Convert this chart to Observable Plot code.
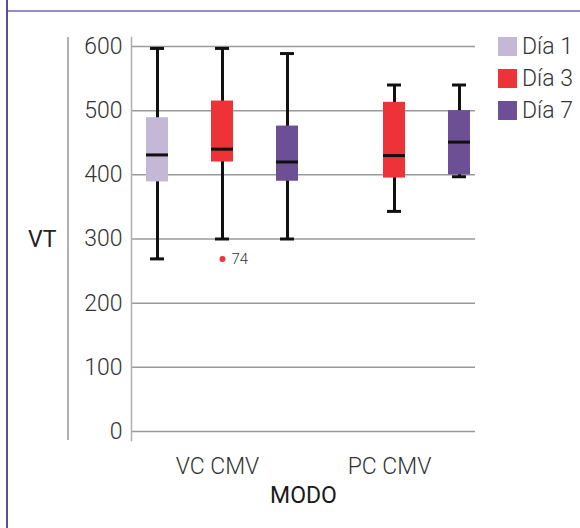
<!DOCTYPE html>
<html>
<head>
<meta charset="utf-8">
<script src="https://cdn.jsdelivr.net/npm/d3@7"></script>
<script src="https://cdn.jsdelivr.net/npm/@observablehq/plot@0.6"></script>
<style>
  body { margin: 0; background: #fff; font-family: Roboto, "DejaVu Sans", sans-serif; }
  #wrap { position: relative; width: 580px; height: 528px; overflow: hidden; background: #fff; }
  #wrap svg { position: absolute; left: 0; top: 0; }
  .deco { position: absolute; }
  #legend { position: absolute; left: 498px; top: 37px; }
  .lg { display: flex; align-items: center; height: 19px; margin-bottom: 13px; font-size: 23px; font-weight: 300; color: #333; white-space: nowrap; }
  .sw { width: 19px; height: 19px; margin-right: 5px; flex: none; }
  #vt { position: absolute; left: 28px; top: 226px; font-size: 23px; color: #222; }
</style>
</head>
<body>
<div id="wrap"></div>
<script>
// ---- data ----
const modos = ["VC CMV", "PC CMV"];
const dias = ["Día 1", "Día 3", "Día 7"];
const diaColors = ["#c4b8d6", "#ee3338", "#6c4f94"];
const yTicks = [0, 100, 200, 300, 400, 500, 600];

const boxModo = ["VC CMV", "VC CMV", "VC CMV", "PC CMV", "PC CMV"];
const boxDia = ["Día 1", "Día 3", "Día 7", "Día 3", "Día 7"];
const whiskerLow = [269, 300, 300, 343, 397];
const q1 = [389, 420, 390, 395, 400];
const medians = [431, 440, 420, 430, 451];
const q3 = [489, 515, 476, 513, 500];
const whiskerHigh = [597, 597, 589, 540, 540];

const outlierModo = ["VC CMV"];
const outlierDia = ["Día 3"];
const outlierValue = [269];
const outlierLabel = ["74"];

// ---- tables ----
const boxes = boxModo.map((m, i) => ({
  modo: m, dia: boxDia[i], lo: whiskerLow[i], q1: q1[i], med: medians[i], q3: q3[i], hi: whiskerHigh[i]
}));
const outliers = outlierModo.map((m, i) => ({ modo: m, dia: outlierDia[i], v: outlierValue[i], label: outlierLabel[i] }));

const ink = "#111";
const chart = Plot.plot({
  width: 580,
  height: 528,
  marginLeft: 130,
  marginRight: 105,
  marginTop: 37,
  marginBottom: 88,
  style: { fontFamily: "Roboto, sans-serif", fontSize: "23px", fontWeight: 300, color: "#333", background: "transparent" },
  fx: { domain: modos, padding: 0, label: "MODO" },
  x: { domain: dias, paddingInner: 0.664, paddingOuter: 0.149, align: 0.76, axis: null },
  y: { domain: [0, 600], insetTop: 9, insetBottom: 9 },
  color: { domain: dias, range: diaColors },
  marks: [
    Plot.gridY(yTicks, { stroke: "#9a9a9a", strokeOpacity: 1, strokeWidth: 1.5 }),
    Plot.frame({ anchor: "left", facetAnchor: "left", stroke: "#b0b0b0", strokeWidth: 1.5 }),
    Plot.axisY(yTicks, { tickSize: 0, tickPadding: 9, label: null, fill: "#333" }),
    Plot.axisFx({ anchor: "bottom", tickSize: 0, tickPadding: 17, label: null, fill: "#333" }),
    Plot.axisFx({ anchor: "bottom", ticks: [], tickSize: 0, label: "MODO", labelAnchor: "center", labelOffset: 62, fill: "#1a1a1a", fontWeight: 400 }),
    Plot.ruleX(boxes, { fx: "modo", x: "dia", y1: "lo", y2: "hi", stroke: ink, strokeWidth: 3 }),
    Plot.barY(boxes, { fx: "modo", x: "dia", y1: "q1", y2: "q3", fill: "dia" }),
    Plot.tickY(boxes, { fx: "modo", x: "dia", y: "med", stroke: ink, strokeWidth: 3 }),
    Plot.tickY(boxes, { fx: "modo", x: "dia", y: "lo", stroke: ink, strokeWidth: 3, insetLeft: 4, insetRight: 4 }),
    Plot.tickY(boxes, { fx: "modo", x: "dia", y: "hi", stroke: ink, strokeWidth: 3, insetLeft: 4, insetRight: 4 }),
    Plot.dot(outliers, { fx: "modo", x: "dia", y: "v", r: 3, fill: diaColors[1], stroke: "none" }),
    Plot.text(outliers, { fx: "modo", x: "dia", y: "v", text: "label", dx: 9, textAnchor: "start", fontSize: 15, fill: "#333" })
  ]
});

const wrap = document.getElementById("wrap");
wrap.appendChild(chart);

// decorations: frame lines and separator
function deco(css) {
  const d = document.createElement("div");
  d.className = "deco";
  Object.assign(d.style, css);
  wrap.appendChild(d);
}
deco({ left: "6px", top: "0px", width: "2px", height: "528px", background: "#5e4d9e" });
deco({ left: "8px", top: "10px", right: "0px", height: "2px", background: "#9a8cc8" });
deco({ left: "67px", top: "37px", width: "1.5px", height: "403px", background: "#b0b0b0" });

// axis title VT
const vt = document.createElement("div");
vt.id = "vt";
vt.textContent = "VT";
wrap.appendChild(vt);

// legend
const legend = document.createElement("div");
legend.id = "legend";
dias.forEach((d, i) => {
  const row = document.createElement("div");
  row.className = "lg";
  const sw = document.createElement("div");
  sw.className = "sw";
  sw.style.background = diaColors[i];
  const t = document.createElement("span");
  t.textContent = d;
  row.appendChild(sw);
  row.appendChild(t);
  legend.appendChild(row);
});
wrap.appendChild(legend);
</script>
</body>
</html>
